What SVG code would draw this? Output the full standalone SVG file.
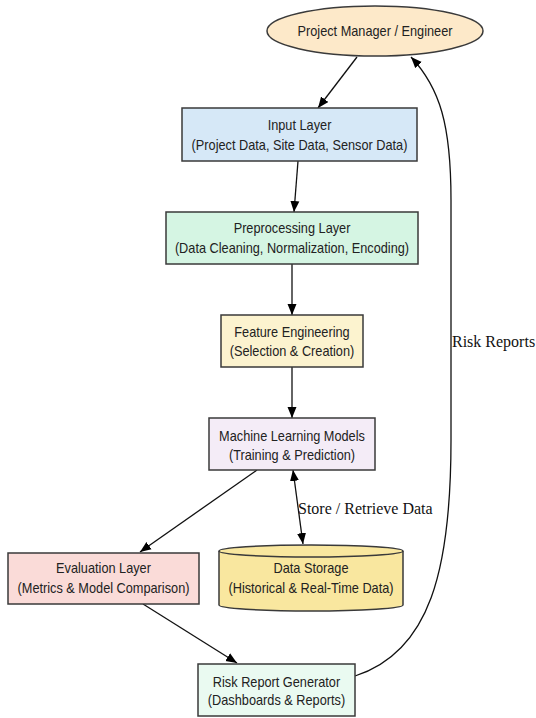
<svg xmlns="http://www.w3.org/2000/svg" width="536" height="718" viewBox="0 0 536 718">
<style>
.n{stroke:#3a3a3a;stroke-width:1.5}
.t{font-family:"Liberation Sans",Arial,sans-serif;font-size:14px;fill:#222;text-anchor:middle;transform-box:fill-box;transform-origin:center;transform:scaleX(0.91)}
.l{font-family:"Liberation Serif","Times New Roman",serif;font-size:16px;fill:#111}
.e{fill:none;stroke:#111;stroke-width:1.3}
</style>
<defs>
<marker id="ah" viewBox="0 0 11 10" refX="11" refY="5" markerWidth="11" markerHeight="10" markerUnits="userSpaceOnUse" orient="auto-start-reverse">
<path d="M0,0.5 L11,5 L0,9.5 Z" fill="#000"/>
</marker>
</defs>
<rect width="536" height="718" fill="#fff"/>
<g id="edges">
<path class="e" d="M357,57 L318,108" marker-end="url(#ah)"/>
<path class="e" d="M298,161 L294,212" marker-end="url(#ah)"/>
<path class="e" d="M292,264 L292,315" marker-end="url(#ah)"/>
<path class="e" d="M292,367 L292,418" marker-end="url(#ah)"/>
<path class="e" d="M257,470 L140,552" marker-end="url(#ah)"/>
<path class="e" d="M293,470 L303,544" marker-start="url(#ah)" marker-end="url(#ah)"/>
<path class="e" d="M143,604 L237,663" marker-end="url(#ah)"/>
<path class="e" d="M355,676 C430,652 451,570 451,440 L451,200 C451,125 440,88 411,57" marker-end="url(#ah)"/>
<text class="l" x="298" y="514">Store / Retrieve Data</text>
<text class="l" x="452" y="347">Risk Reports</text>
</g>
<g id="pm">
<ellipse class="n" cx="375" cy="31" rx="108" ry="25" fill="#fde9c9"/>
<text class="t" x="375" y="36">Project Manager / Engineer</text>
</g>
<g id="input">
<rect class="n" x="182" y="108" width="235" height="53" fill="#d6e8f7"/>
<text class="t" x="299.5" y="130">Input Layer</text>
<text class="t" x="299.5" y="150">(Project Data, Site Data, Sensor Data)</text>
</g>
<g id="preproc">
<rect class="n" x="166" y="212" width="252" height="52" fill="#d5f5e3"/>
<text class="t" x="292" y="233">Preprocessing Layer</text>
<text class="t" x="292" y="253">(Data Cleaning, Normalization, Encoding)</text>
</g>
<g id="feature">
<rect class="n" x="221" y="315" width="142" height="52" fill="#fcf3cf"/>
<text class="t" x="292" y="337">Feature Engineering</text>
<text class="t" x="292" y="356">(Selection &amp; Creation)</text>
</g>
<g id="ml">
<rect class="n" x="209" y="418" width="166" height="52" fill="#f4ecf7"/>
<text class="t" x="292" y="441">Machine Learning Models</text>
<text class="t" x="292" y="460">(Training &amp; Prediction)</text>
</g>
<g id="eval">
<rect class="n" x="8" y="553" width="191" height="51" fill="#fadbd8"/>
<text class="t" x="103.5" y="573">Evaluation Layer</text>
<text class="t" x="103.5" y="593">(Metrics &amp; Model Comparison)</text>
</g>
<g id="storage">
<path class="n" d="M219,551 A92,6 0 0,1 403,551 L403,605 A92,6 0 0,1 219,605 Z" fill="#f9e79f"/>
<path class="n" d="M219,551 A92,6 0 0,0 403,551" fill="none"/>
<text class="t" x="311" y="573">Data Storage</text>
<text class="t" x="311" y="593">(Historical &amp; Real-Time Data)</text>
</g>
<g id="report">
<rect class="n" x="198" y="664" width="157" height="52" fill="#eafaf1"/>
<text class="t" x="276.5" y="687">Risk Report Generator</text>
<text class="t" x="276.5" y="705">(Dashboards &amp; Reports)</text>
</g>
</svg>
